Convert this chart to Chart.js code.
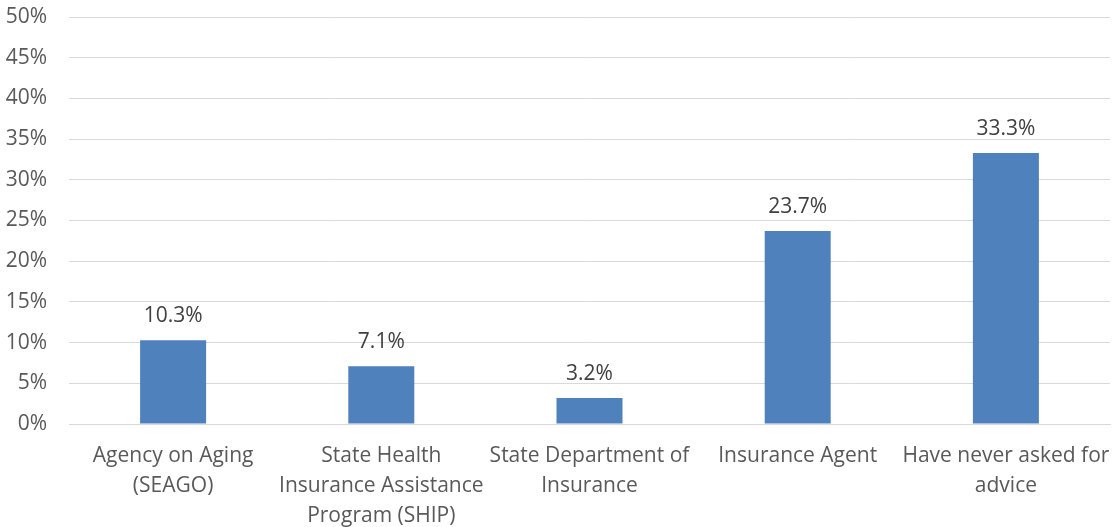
<!DOCTYPE html>
<html>
<head>
<meta charset="utf-8">
<script src="https://cdn.jsdelivr.net/npm/chart.js@4.4.1/dist/chart.umd.min.js"></script>
<style>
  html, body { margin: 0; padding: 0; background: #fff; }
  #wrap { width: 1115px; height: 527px; }
</style>
</head>
<body>
<div id="wrap"><canvas id="barChart"></canvas></div>
<script>
// Datos del gráfico
const categories = [
    ['Agency on Aging', '(SEAGO)'],
    ['State Health', 'Insurance Assistance', 'Program (SHIP)'],
    ['State Department of', 'Insurance'],
    ['Insurance Agent'],
    ['Have never asked for', 'advice']
];
const percentValues = [10.3, 7.1, 3.2, 23.7, 33.3];
const yTickMax = 50;
const yTickStep = 5;

const fontFamily = '"Open Sans", "Noto Sans", sans-serif';

// Plugin para dibujar etiquetas de valor encima de las barras
const valueLabels = {
    id: 'valueLabels',
    afterDatasetsDraw(chart) {
        const ctx = chart.ctx;
        const meta = chart.getDatasetMeta(0);
        ctx.save();
        ctx.font = '21px ' + fontFamily;
        ctx.fillStyle = '#404040';
        ctx.textAlign = 'center';
        ctx.textBaseline = 'middle';
        meta.data.forEach((bar, i) => {
            ctx.fillText(percentValues[i].toFixed(1) + '%', bar.x, bar.y - 24);
        });
        ctx.restore();
    }
};

const ctx = document.getElementById('barChart').getContext('2d');
const barChartInstance = new Chart(ctx, {
    type: 'bar',
    data: {
        labels: categories,
        datasets: [{
            data: percentValues,
            backgroundColor: '#4F81BD',
            borderWidth: 0,
            categoryPercentage: 1,
            barPercentage: 0.317
        }]
    },
    options: {
        responsive: true,
        maintainAspectRatio: false,
        animation: false,
        layout: { padding: { top: 17, right: 5, left: 0, bottom: 0 } },
        plugins: {
            legend: { display: false },
            tooltip: { enabled: false }
        },
        scales: {
            x: {
                grid: { display: false, drawTicks: false },
                border: { display: true, color: '#d9d9d9', width: 1 },
                ticks: {
                    color: '#595959',
                    font: { family: fontFamily, size: 21, lineHeight: 1.43 },
                    padding: 17,
                    maxRotation: 0,
                    autoSkip: false
                },
                afterFit(scale) {
                    scale.height = 103;
                    scale.paddingLeft = 0;
                    scale.paddingRight = 0;
                }
            },
            y: {
                min: 0,
                max: yTickMax,
                grid: { color: '#d9d9d9', drawTicks: false },
                border: { display: false },
                ticks: {
                    stepSize: yTickStep,
                    color: '#595959',
                    font: { family: fontFamily, size: 21 },
                    padding: 22,
                    callback: v => v + '%'
                },
                afterFit(scale) {
                    scale.width = 69;
                    scale.paddingTop = 0;
                    scale.paddingBottom = 0;
                }
            }
        }
    },
    plugins: [valueLabels]
});
</script>
</body>
</html>
